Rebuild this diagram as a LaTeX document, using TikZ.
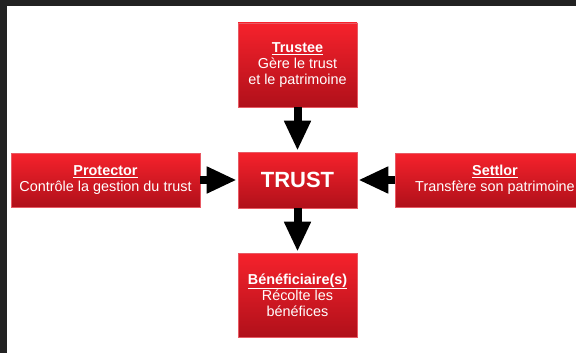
\documentclass[tikz,border=0pt]{standalone}
\usepackage{fontspec}
\setmainfont{Liberation Sans}
\usetikzlibrary{arrows.meta}
\definecolor{framedark}{RGB}{34,34,34}
\definecolor{redtop}{RGB}{246,34,44}
\definecolor{redbot}{RGB}{176,16,26}
\definecolor{rededge}{RGB}{232,90,100}
\begin{document}
\begin{tikzpicture}[x=1pt,y=-1pt,
  box/.style={rectangle, inner sep=0pt, top color=redtop, bottom color=redbot,
    draw=rededge, line width=0.6pt, text=white, align=center,
    font=\fontsize{14.4}{16}\selectfont},
  bigarrow/.style={line width=8pt, black, shorten >=1pt,
    -{Triangle[length=30pt,width=25pt]}}]
\useasboundingbox (0,0) rectangle (576,353);
\fill[white] (-5,-5) rectangle (590,365);
\fill[framedark] (-5,-5) rectangle (590,6);
\fill[framedark] (-5,-5) rectangle (7,365);
\begin{scope}
\clip (7,6) rectangle (590,365);
\node[box, minimum width=119pt, minimum height=84pt] (trustee) at (297.5,65)
  {\underline{\textbf{Trustee}}\\Gère le trust\\et le patrimoine};
\node[box, minimum width=119pt, minimum height=56pt,
  font=\fontsize{22}{26}\selectfont\bfseries] (trust) at (297.5,180) {TRUST};
\node[box, minimum width=189pt, minimum height=54pt] (protector) at (105.5,180)
  {\underline{\textbf{Protector}}\\Contrôle la gestion du trust};
\node[box, minimum width=200pt, minimum height=54pt] (settlor) at (495,180)
  {\underline{\textbf{Settlor}}\\Transfère son patrimoine};
\node[box, minimum width=119pt, minimum height=84pt] (benef) at (297.5,295)
  {\underline{\textbf{Bénéficiaire(s)}}\\Récolte les\\bénéfices};
\draw[bigarrow] (trustee.south) -- (trust.north);
\draw[bigarrow] (trust.south) -- (benef.north);
\draw[bigarrow] (protector.east) -- (trust.west);
\draw[bigarrow] (settlor.west) -- (trust.east);
\end{scope}
\end{tikzpicture}
\end{document}
